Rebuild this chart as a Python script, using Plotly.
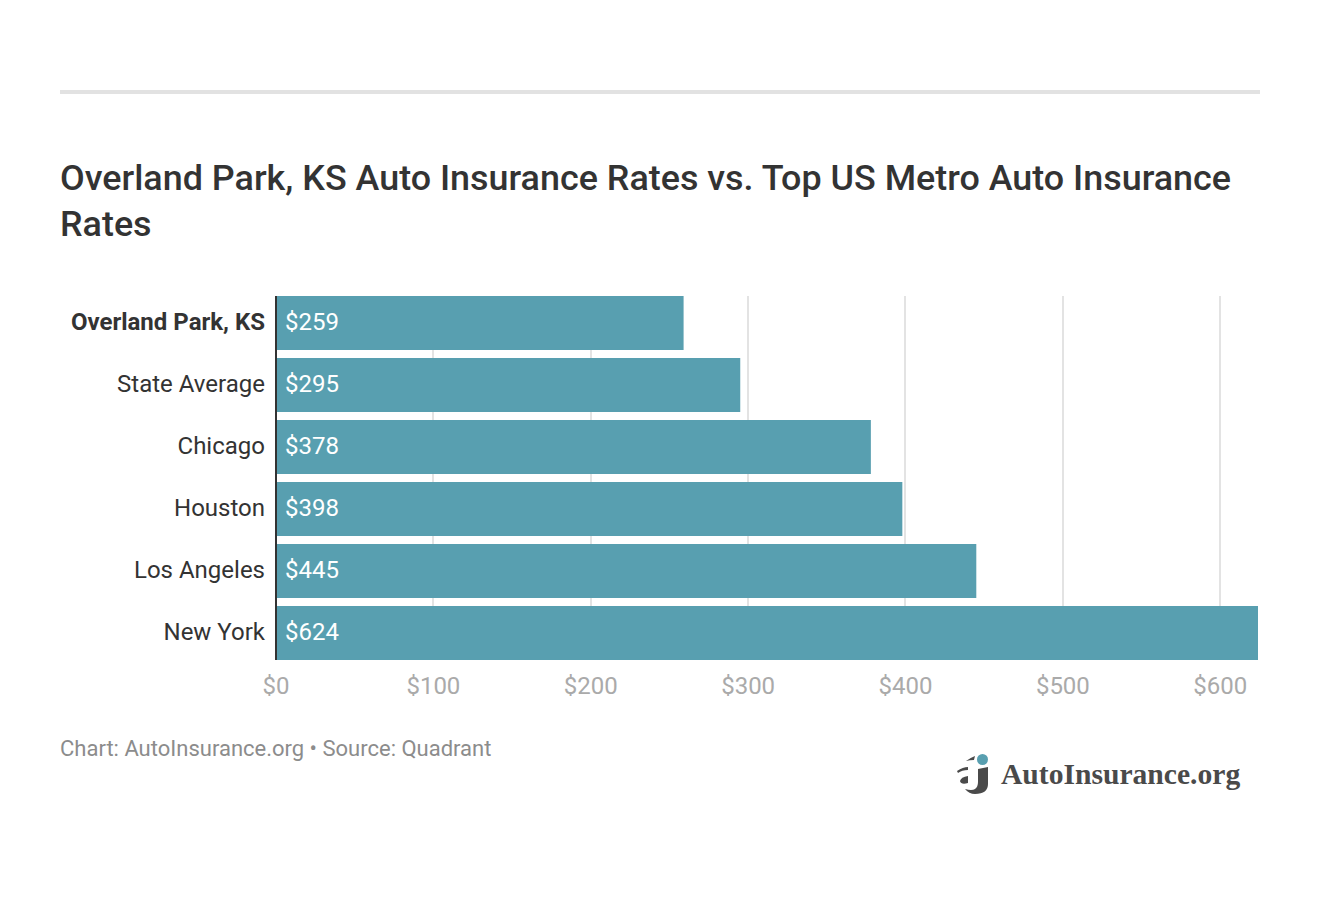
import plotly.graph_objects as go

cities = ['Overland Park, KS', 'State Average', 'Chicago', 'Houston', 'Los Angeles', 'New York']
rates = [259, 295, 378, 398, 445, 624]
tick_values = [0, 100, 200, 300, 400, 500, 600]
tick_labels = ['$0', '$100', '$200', '$300', '$400', '$500', '$600']

TITLE = 'Overland Park, KS Auto Insurance Rates vs. Top US Metro Auto Insurance<br>Rates'
SOURCE = 'Chart: AutoInsurance.org • Source: Quadrant'
LOGO = 'AutoInsurance.org'
BAR_COLOR = '#589fb0'
DARK = '#333333'
LOGO_DARK = '#4a4a4a'
FONT = 'Roboto'

# plot area in page pixels, the rule and logo are placed relative to it
LEFT, RIGHT, TOP, BOTTOM = 276, 1258, 296, 660


def px(x):
    return (x - LEFT) / (RIGHT - LEFT)


def py(y):
    return (BOTTOM - y) / (BOTTOM - TOP)


def logo_path(*parts):
    """
    Build a paper-referenced svg path from (command, x, y, x, y...) pieces in page pixels.
    """
    out = []
    for part in parts:
        cmd = part[0]
        nums = part[1:]
        coords = []
        for i in range(0, len(nums), 2):
            coords.append(str(round(px(nums[i]), 5)) + ',' + str(round(py(nums[i + 1]), 5)))
        out.append(cmd + ' ' + ' '.join(coords))
    return ' '.join(out) + ' Z'


city_labels = ['<b>' + c + '</b>' if i == 0 else c for i, c in enumerate(cities)]

fig = go.Figure(go.Bar(
    x=rates,
    y=cities,
    orientation='h',
    width=0.871,
    marker=dict(color=BAR_COLOR, line=dict(width=0)),
    hoverinfo='skip',
))

annotations = []
for city, rate in zip(cities, rates):
    annotations.append(dict(
        x=0, y=city, xref='x', yref='y',
        text='$' + str(rate),
        xanchor='left', yanchor='middle',
        xshift=7, yshift=1, showarrow=False,
        font=dict(family=FONT, size=24, color='white'),
    ))

annotations.append(dict(
    x=px(58), y=py(748), xref='paper', yref='paper', text=SOURCE,
    xanchor='left', yanchor='middle', showarrow=False,
    font=dict(family=FONT, size=22, color='#8c8c8c'),
))
annotations.append(dict(
    x=px(999), y=py(774), xref='paper', yref='paper', text='<b>' + LOGO + '</b>',
    xanchor='left', yanchor='middle', showarrow=False,
    font=dict(family='Liberation Serif', size=29.6, color=LOGO_DARK),
))

logo_shapes = [
    # j with its hook
    logo_path(('M', 978, 769), ('L', 988, 767), ('L', 988, 784), ('Q', 988, 794, 975, 794),
              ('Q', 969, 794, 965, 789), ('Q', 972, 791, 975, 789), ('Q', 978, 787, 978, 782)),
    # three strokes of the a
    logo_path(('M', 966, 761), ('Q', 970, 758, 975, 756), ('L', 974, 760), ('Q', 970, 760, 966, 761)),
    logo_path(('M', 957, 771), ('Q', 963, 767, 968, 767), ('L', 968, 770), ('Q', 962, 770, 958, 773)),
    logo_path(('M', 960, 781), ('Q', 961, 777, 968, 776), ('L', 968, 783), ('Q', 961, 785, 960, 781)),
]

shapes = [
    dict(type='rect', xref='paper', yref='paper', x0=px(60), x1=px(1260),
         y0=py(94), y1=py(90), fillcolor='#e2e2e2', line=dict(width=0)),
    # y axis line, drawn over the bar bases
    dict(type='rect', xref='paper', yref='paper', x0=px(275), x1=px(277),
         y0=py(660), y1=py(296), fillcolor=DARK, line=dict(width=0), layer='above'),
    dict(type='circle', xref='paper', yref='paper', x0=px(977), x1=px(988),
         y0=py(765), y1=py(754), fillcolor=BAR_COLOR, line=dict(width=0)),
]
for path in logo_shapes:
    shapes.append(dict(type='path', xref='paper', yref='paper', path=path,
                       fillcolor=LOGO_DARK, line=dict(width=0)))

fig.update_layout(
    width=1320,
    height=904,
    margin=dict(l=LEFT, r=1320 - RIGHT, t=TOP, b=904 - BOTTOM, pad=0),
    paper_bgcolor='white',
    plot_bgcolor='white',
    showlegend=False,
    font=dict(family=FONT),
    title=dict(
        text=TITLE,
        x=60 / 1320, xanchor='left', xref='container',
        y=1 - 189.5 / 904, yanchor='middle', yref='container',
        font=dict(family=FONT, size=35.9, color=DARK, weight=500),
    ),
    xaxis=dict(
        range=[0, 624],
        tickmode='array',
        tickvals=tick_values,
        ticktext=tick_labels,
        showgrid=True,
        gridcolor='#e3e3e3',
        gridwidth=2,
        zeroline=False,
        showline=False,
        ticks='',
        ticklabelstandoff=9,
        tickfont=dict(family=FONT, size=24, color='#aaaaaa'),
        fixedrange=True,
    ),
    yaxis=dict(
        autorange=False,
        range=[5.4355, -0.4355],
        tickmode='array',
        tickvals=cities,
        ticktext=city_labels,
        showgrid=False,
        zeroline=False,
        showline=False,
        ticks='',
        ticklabelstandoff=10,
        ticklabelshift=1,
        tickfont=dict(family=FONT, size=24, color=DARK),
        fixedrange=True,
    ),
    annotations=annotations,
    shapes=shapes,
)

# drop the browser's default page margin so the figure starts at 0,0
fig.write_html('out.html', config={'displayModeBar': False},
               post_script="document.body.style.margin='0';")
